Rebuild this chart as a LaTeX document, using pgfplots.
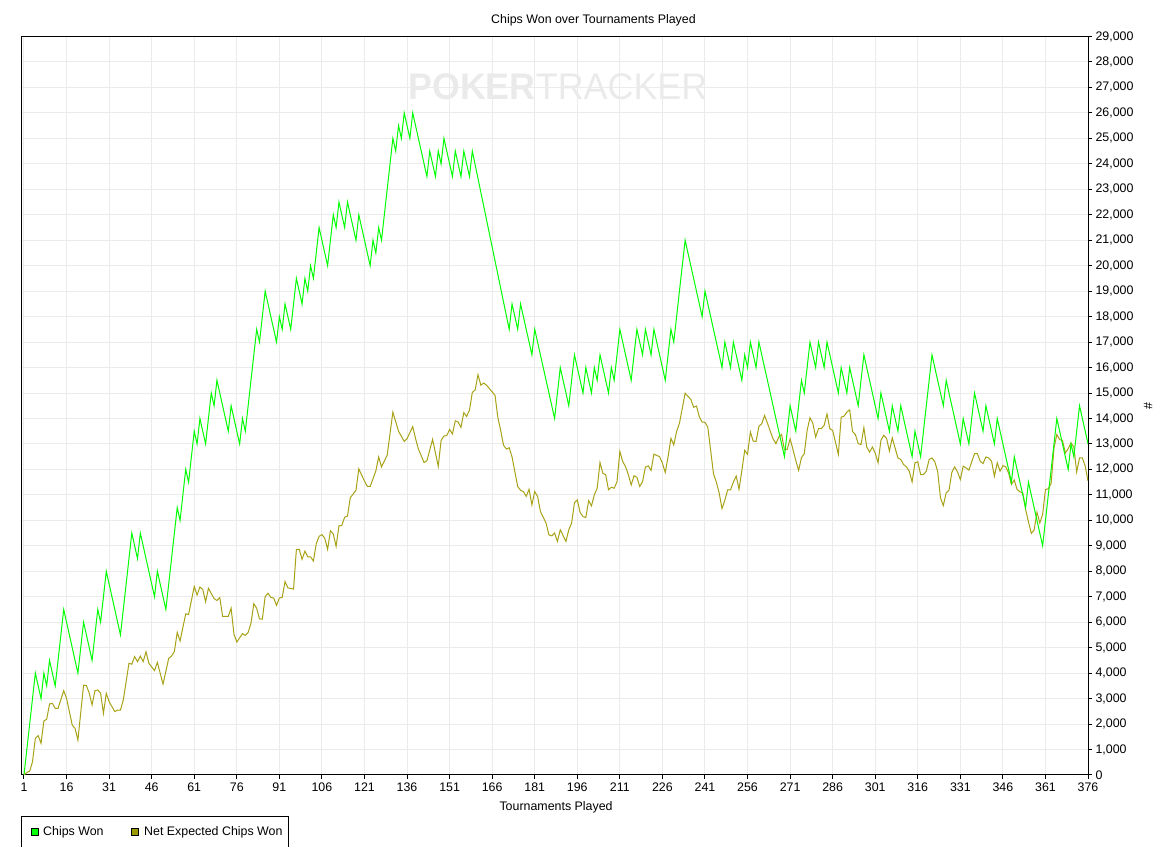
\documentclass[border=0pt]{standalone}
\usepackage{pgfplots}
\pgfplotsset{compat=1.18}
\usepackage{fontspec}
\setmainfont{Liberation Sans}
\definecolor{cwgreen}{RGB}{0,255,0}
\definecolor{cwolive}{RGB}{168,162,22}
\definecolor{legolive}{RGB}{155,155,0}
\definecolor{gridgray}{RGB}{235,235,235}
\definecolor{wmgray}{RGB}{234,234,234}
\newcommand{\twelve}{\fontsize{12.4bp}{14bp}\selectfont}
\begin{document}
\begin{tikzpicture}
\useasboundingbox (0bp,0bp) rectangle (1161bp,847bp);
\node[anchor=base west, text=wmgray, inner sep=0pt, font=\fontsize{37bp}{40bp}\selectfont, xscale=0.97] at (408bp,747bp) {\textbf{POKER}TRACKER};
\begin{axis}[
  at={(21.5bp,72bp)}, anchor=south west,
  scale only axis, width=1066.5bp, height=738.5bp,
  xmin=0.12, xmax=376, ymin=0, ymax=29000,
  xtick={1,16,...,376}, ytick={0,1000,...,29000},
  scaled y ticks=false,
  /pgf/number format/assume math mode=true,
  yticklabel style={/pgf/number format/1000 sep={,}},
  xtick pos=bottom, ytick pos=right, yticklabel pos=right,
  tick align=outside, major tick length=4bp,
  tick style={black, line width=1bp},
  axis line style={black, line width=1bp},
  grid=major, major grid style={gridgray, line width=1bp},
  tick label style={font=\twelve},
  label style={font=\twelve},
  title={Chips Won over Tournaments Played},
  title style={at={(axis description cs:0.5363,1)}, anchor=base, yshift=7bp, font=\twelve},
  xlabel={Tournaments Played},
  xlabel style={at={(axis description cs:0.5012,0)}, anchor=base, yshift=-36bp},
  ylabel={\#},
  ylabel style={at={(axis description cs:1.0563,0.5)}, anchor=center},
  clip=true,
]
\addplot[cwolive, line width=1bp, mark=none] coordinates {
(1,0) (2,100) (3,150) (4,520) (5,1440) (6,1545) (7,1245) (8,2120) (9,2190) (10,2790)
(11,2810) (12,2620) (13,2620) (15,3310) (16,3010) (18,1960) (19,1830) (20,1370) (22,3530) (23,3510)
(24,3210) (25,2750) (26,3310) (27,3340) (28,3210) (29,2420) (30,3210) (31,2880) (33,2490) (34,2550)
(35,2550) (36,2950) (38,4390) (39,4350) (40,4650) (41,4450) (42,4670) (43,4450) (44,4840) (45,4390)
(47,4100) (48,4420) (50,3570) (52,4580) (53,4670) (54,4850) (55,5600) (56,5260) (58,6330) (59,6300)
(61,7400) (62,7070) (63,7380) (64,7290) (65,6800) (66,7330) (68,6930) (69,6850) (70,6970) (71,6230)
(73,6230) (74,6550) (75,5530) (76,5220) (78,5550) (79,5480) (80,5600) (81,5960) (82,6730) (83,6545)
(84,6130) (85,6120) (86,7010) (87,7140) (88,6970) (89,6950) (90,6660) (91,6950) (92,6975) (93,7600)
(94,7350) (96,7300) (97,8860) (98,8860) (99,8470) (100,8790) (101,8570) (102,8570) (103,8400) (104,9080)
(105,9370) (106,9440) (107,9300) (108,8860) (109,9590) (110,9470) (111,8980) (112,9780) (113,9800) (114,10120)
(115,10170) (116,10890) (118,11180) (119,12020) (121,11540) (122,11330) (123,11330) (125,11940) (126,12490) (127,12100)
(129,12560) (131,14250) (133,13500) (135,13100) (136,13210) (138,13680) (139,13210) (140,12800) (142,12270) (143,12340)
(145,13180) (147,12120) (148,13140) (149,13310) (150,13330) (151,13570) (152,13390) (153,13910) (154,13860) (155,13650)
(156,14230) (157,14080) (158,14330) (159,15020) (160,15120) (161,15720) (162,15310) (163,15390) (164,15310) (167,14910)
(168,14040) (169,13530) (170,12950) (171,12800) (172,12850) (173,12490) (175,11330) (176,11180) (177,11130) (178,10940)
(179,11220) (180,10610) (181,11130) (182,10940) (183,10350) (185,9890) (186,9430) (187,9390) (188,9500) (189,9170)
(190,9630) (192,9170) (193,9630) (194,9890) (195,10700) (196,10800) (197,10310) (198,10150) (199,10110) (200,10770)
(201,10570) (202,11000) (203,11260) (204,12270) (205,11850) (206,11790) (207,11200) (208,11300) (209,11260) (210,11520)
(211,12700) (212,12310) (213,12110) (214,11790) (215,11390) (216,11750) (217,11690) (218,11330) (219,11520) (220,12090)
(221,12140) (222,11960) (223,12600) (225,12500) (226,12240) (227,11880) (228,12500) (229,13220) (230,12960) (231,13490)
(232,13810) (234,14990) (236,14750) (237,14440) (238,14490) (239,14070) (240,13860) (241,13850) (242,13660) (244,11830)
(245,11500) (246,11070) (247,10460) (248,10790) (249,11200) (250,11200) (251,11500) (252,11740) (253,11220) (254,11960)
(255,12750) (256,12590) (257,13470) (258,13110) (259,13100) (260,13690) (261,13790) (262,14120) (263,13820) (264,13500)
(265,13200) (266,13010) (267,13270) (268,13370) (269,12770) (270,12790) (271,13200) (272,12790) (273,12350) (274,11960)
(275,12460) (276,12620) (277,13530) (278,14030) (279,13820) (280,13270) (281,13600) (282,13600) (283,13730) (284,14180)
(285,13600) (286,13530) (288,12590) (289,14050) (290,14090) (291,14250) (292,14340) (293,13490) (294,13370) (295,13010)
(296,12980) (297,13640) (298,12880) (299,12680) (300,12880) (301,12640) (302,12260) (303,13140) (304,13340) (305,13220)
(306,12720) (307,13240) (308,12840) (309,12450) (310,12390) (311,12190) (312,12100) (313,11930) (314,11510) (315,12260)
(316,12300) (317,11800) (318,11800) (319,11930) (320,12390) (321,12450) (322,12300) (323,11930) (324,10880) (325,10580)
(326,11080) (327,11180) (328,11890) (329,12100) (330,11900) (331,11600) (332,12130) (333,12060) (334,11970) (336,12620)
(337,12620) (338,12320) (339,12230) (340,12490) (341,12450) (342,12320) (343,11730) (344,12260) (345,11930) (346,12150)
(347,12100) (348,11860) (349,11410) (350,11580) (351,11210) (352,11120) (353,11080) (354,10430) (355,9940) (356,9490)
(357,9620) (358,10320) (359,9900) (360,10230) (361,11210) (362,11240) (363,11450) (364,12840) (365,13370) (366,13170)
(367,13140) (368,12650) (369,12810) (370,13040) (371,12880) (372,11900) (373,12450) (374,12450) (375,12130) (376,11540)
};
\addplot[cwgreen, line width=1bp, mark=none] coordinates {
(1,0) (5,4000) (7,3000) (8,4000) (9,3500) (10,4500) (12,3500) (15,6500) (20,4000) (22,6000)
(25,4500) (27,6500) (28,6000) (30,8000) (35,5500) (39,9500) (41,8500) (42,9500) (47,7000) (48,8000)
(51,6500) (55,10500) (56,10000) (58,12000) (59,11500) (61,13500) (62,13000) (63,14000) (65,13000) (67,15000)
(68,14500) (69,15500) (73,13500) (74,14500) (77,13000) (78,14000) (79,13500) (83,17500) (84,17000) (86,19000)
(90,17000) (91,18000) (92,17500) (93,18500) (95,17500) (97,19500) (99,18500) (100,19500) (101,19000) (102,20000)
(103,19500) (105,21500) (108,20000) (110,22000) (111,21500) (112,22500) (114,21500) (115,22500) (118,21000) (119,22000)
(123,20000) (124,21000) (125,20500) (126,21500) (127,21000) (131,25000) (132,24500) (133,25500) (134,25000) (135,26000)
(137,25000) (138,26000) (143,23500) (144,24500) (146,23500) (147,24500) (148,24000) (149,25000) (152,23500) (153,24500)
(155,23500) (156,24500) (158,23500) (159,24500) (172,17500) (173,18500) (175,17500) (176,18500) (180,16500) (181,17500)
(188,14000) (190,16000) (193,14500) (195,16500) (198,15000) (199,16000) (201,15000) (202,16000) (203,15500) (204,16500)
(207,15000) (208,16000) (209,15500) (211,17500) (215,15500) (217,17500) (219,16500) (220,17500) (222,16500) (223,17500)
(227,15500) (229,17500) (230,17000) (234,21000) (240,18000) (241,19000) (247,16000) (248,17000) (250,16000) (251,17000)
(254,15500) (255,16500) (256,16000) (257,17000) (259,16000) (260,17000) (269,12500) (271,14500) (273,13500) (275,15500)
(276,15000) (278,17000) (280,16000) (281,17000) (283,16000) (284,17000) (288,15000) (289,16000) (291,15000) (292,16000)
(295,14500) (297,16500) (302,14000) (303,15000) (306,13500) (307,14500) (309,13500) (310,14500) (314,12500) (315,13500)
(317,12500) (321,16500) (325,14500) (326,15500) (331,13000) (332,14000) (334,13000) (336,15000) (339,13500) (340,14500)
(343,13000) (344,14000) (349,11500) (350,12500) (354,10500) (355,11500) (360,9000) (365,14000) (369,12000) (370,13000)
(371,12500) (373,14500) (376,13000)
};
\end{axis}
\draw[black, line width=1bp] (21.5bp,-5bp) rectangle (288bp,30.3bp);
\draw[black, fill=cwgreen, line width=0.8bp] (31bp,12bp) rectangle (38bp,19bp);
\node[anchor=base west, inner sep=0pt, font=\twelve] at (43bp,11.2bp) {Chips Won};
\draw[black, fill=legolive, line width=0.8bp] (131bp,12bp) rectangle (138bp,19bp);
\node[anchor=base west, inner sep=0pt, font=\twelve] at (144bp,11.2bp) {Net Expected Chips Won};
\end{tikzpicture}
\end{document}
